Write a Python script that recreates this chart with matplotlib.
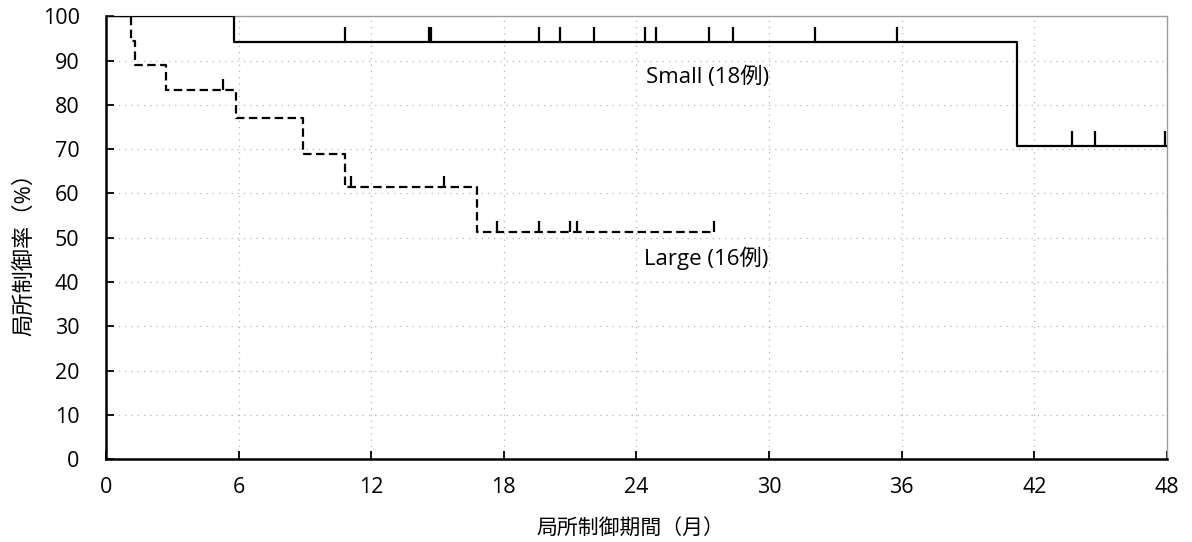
import numpy as np
import matplotlib
matplotlib.use("Agg")
import matplotlib.pyplot as plt

plt.rcParams['font.family'] = ['Open Sans', 'Noto Sans CJK JP', 'DejaVu Sans']

# Small group (solid)
small_times = [0, 5.8, 41.2]
small_surv = [100, 94.1, 70.6]
small_end = 48.0
small_censor = [10.8, 14.6, 14.7, 19.6, 20.55, 22.1, 24.4, 24.9, 27.3, 28.35, 32.1, 35.8, 43.7, 44.75, 47.9]

# Large group (dashed)
large_times = [0, 1.15, 1.3, 2.7, 5.9, 8.9, 10.8, 16.8]
large_surv = [100, 94.4, 88.9, 83.3, 77.1, 69.0, 61.5, 51.3]
large_end = 27.55
large_censor = [5.3, 11.1, 15.3, 17.7, 19.6, 21.0, 21.3, 27.5]

xticks = [0, 6, 12, 18, 24, 30, 36, 42, 48]
yticks = [0, 10, 20, 30, 40, 50, 60, 70, 80, 90, 100]

fig = plt.figure(figsize=(11.92, 5.42), dpi=100)
ax = fig.add_axes([0.0889, 0.153, 0.890, 0.817])


def step_value(times, surv, t):
    idx = np.searchsorted(times, t, side='right') - 1
    return np.asarray(surv)[idx]


def draw_curve(times, surv, end, censor, ls, tick_len):
    xs = list(times) + [end]
    ys = list(surv) + [surv[-1]]
    ax.step(xs, ys, where='post', color='black', lw=1.6, linestyle=ls,
            zorder=3)
    cv = step_value(times, surv, censor)
    ax.vlines(censor, cv, cv + tick_len, color='black', lw=1.6, zorder=3)


draw_curve(small_times, small_surv, small_end, small_censor, '-', 3.5)
draw_curve(large_times, large_surv, large_end, large_censor, (0, (3.8, 2.0)), 2.5)

ax.set_xlim(0, 48)
ax.set_ylim(0, 100)
ax.set_xticks(xticks)
ax.set_yticks(yticks)
ax.tick_params(direction='in', length=6, width=1.3, labelsize=15.5,
               colors='black')
ax.tick_params(axis='x', pad=13)
ax.tick_params(axis='y', pad=19)
ax.grid(True, color='#b5b5b5', linestyle=(0, (1, 4)), lw=0.9)

for s in ['left', 'bottom']:
    ax.spines[s].set_linewidth(1.8)
    ax.spines[s].set_color('black')
for s in ['top', 'right']:
    ax.spines[s].set_linewidth(1.0)
    ax.spines[s].set_color('#9a9a9a')

ax.text(24.45, 86.3, 'Small (18例)', fontsize=16, ha='left', va='center')
ax.text(24.35, 45.3, 'Large (16例)', fontsize=16, ha='left', va='center')

fig.text(0.5285, 1 - 529 / 542, '局所制御期間（月）', fontsize=15,
         ha='center', va='center')
fig.text(25 / 1192, 1 - 249 / 542, '局所制御率（%）', fontsize=16,
         ha='center', va='center', rotation=90)

fig.savefig('out.png', dpi=100)
